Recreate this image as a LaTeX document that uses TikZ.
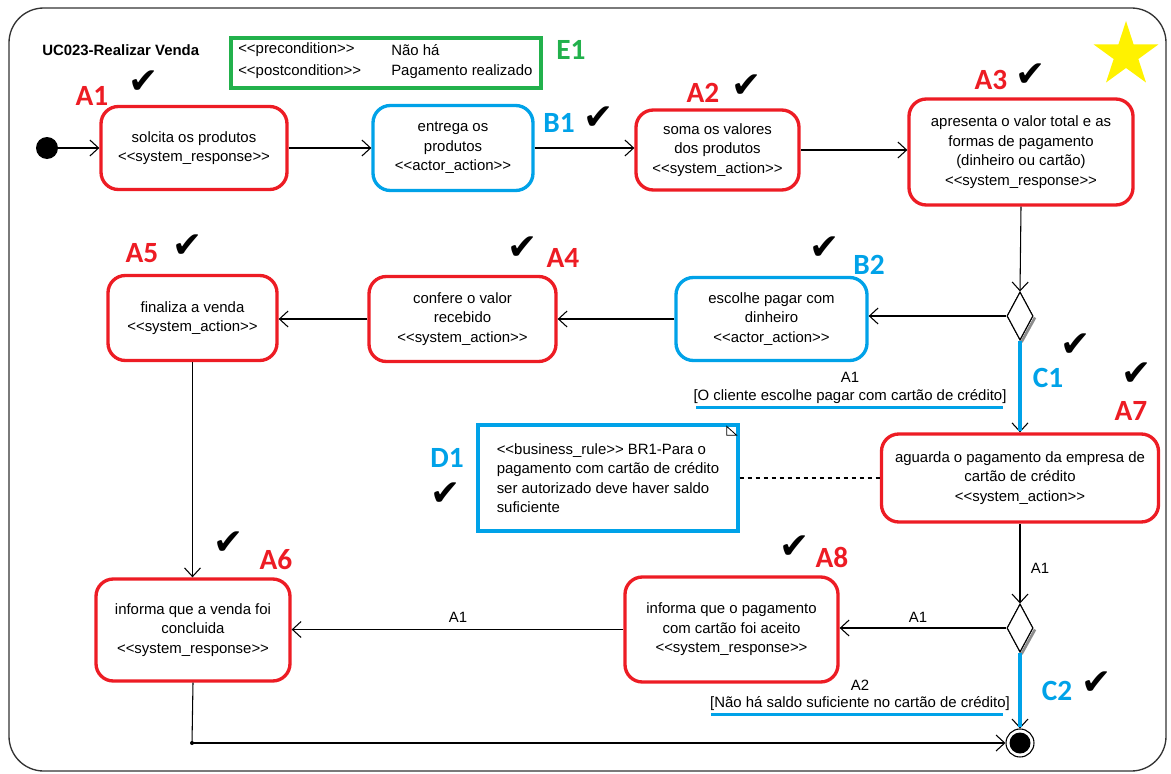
\documentclass[tikz,border=0pt]{standalone}
\usepackage{fontspec}
\setmainfont{Liberation Sans}
\newfontfamily\lblfont{Carlito}
\newfontfamily\symfont{DejaVu Sans}
\usetikzlibrary{arrows.meta,shapes.geometric,calc}
\definecolor{actred}{RGB}{237,28,36}
\definecolor{actblue}{RGB}{0,162,232}
\definecolor{condgreen}{RGB}{34,177,76}
\definecolor{staryellow}{RGB}{255,242,0}
\newcommand\lgu{<{}<}
\newcommand\rgu{>{}>}
\begin{document}
\begin{tikzpicture}[x=0.75pt,y=-0.75pt,
  txt/.style={font=\fontsize{11.2}{14.6}\selectfont, align=center, inner sep=0pt},
  act/.style={txt, draw=#1, line width=2.5pt, rounded corners=13pt, fill=white},
  sz/.style 2 args={minimum width=#1*0.75pt, minimum height=#2*0.75pt},
  tag/.style={font=\lblfont\bfseries\fontsize{22}{22}\selectfont, text=#1, inner sep=0pt},
  tick/.style={font=\symfont\fontsize{27}{27}\selectfont, inner sep=0pt},
  flow/.style={draw=black, line width=0.8pt, -{Straight Barb[length=6.5pt,width=12pt]}},
  bluepath/.style={draw=actblue, line width=2.6pt},
  guardline/.style={draw=actblue, line width=2.6pt},
  decision/.style={diamond, draw=black, line width=0.8pt, fill=white, minimum width=26*0.75pt, minimum height=48*0.75pt, inner sep=0pt},
  dshadow/.style={draw=black!45, line width=2pt}
]
\useasboundingbox (0,0) rectangle (1171,774);

% frame of the activity
\draw[line width=1pt, black!80, rounded corners=26pt] (9,8) rectangle (1166,771);

% title and conditions
\node[txt, font=\fontsize{11.2}{14}\selectfont\bfseries, anchor=west] (title) at (42,50) {UC023-Realizar Venda};
\node[draw=condgreen, line width=2.5pt, sz={310}{50}, inner sep=0pt] (cond) at (386,63) {};
\node[txt, anchor=west] (pre) at (238,50) {\lgu precondition\rgu};
\node[txt, anchor=west] (prev) at (391,50) {Não há};
\node[txt, anchor=west] (post) at (238,72) {\lgu postcondition\rgu};
\node[txt, anchor=west] (postv) at (391,72) {Pagamento realizado};

% star
\node[star, star points=5, star point ratio=2.618, fill=staryellow, minimum size=68*0.75pt, inner sep=0pt] (star) at (1126,55) {};

% start and end
\node[circle, fill=black, minimum size=22*0.75pt, inner sep=0pt] (init) at (47,148) {};
\node[circle, draw=black, line width=0.8pt, fill=white, minimum size=28*0.75pt, inner sep=0pt] (fin) at (1020,743) {};
\node[circle, fill=black, minimum size=21*0.75pt, inner sep=0pt] (finc) at (1020,743) {};
\node[circle, fill=black, minimum size=4*0.75pt, inner sep=0pt] (jn) at (192,743) {};

% actions
\node[act=actred, sz={186}{83}] (a1) at (194,148) {solcita os produtos\\\lgu system\_response\rgu};
\node[act=actblue, sz={160}{85}] (b1) at (453,148) {entrega os\\produtos\\\lgu actor\_action\rgu};
\node[act=actred, sz={163}{80}] (a2) at (717.5,150) {soma os valores\\dos produtos\\\lgu system\_action\rgu};
\node[act=actred, sz={224}{106}] (a3) at (1021,152) {apresenta o valor total e as\\formas de pagamento\\(dinheiro ou cartão)\\\lgu system\_response\rgu};
\node[act=actblue, sz={191}{83}] (b2) at (771.5,319) {escolhe pagar com\\dinheiro\\\lgu actor\_action\rgu};
\node[act=actred, sz={187}{85}] (a4) at (462.5,319) {confere o valor\\recebido\\\lgu system\_action\rgu};
\node[act=actred, sz={169}{85}] (a5) at (192.5,318) {finaliza a venda\\\lgu system\_action\rgu};
\node[act=actred, sz={277}{88}] (a7) at (1020,478) {aguarda o pagamento da empresa de\\cartão de crédito\\\lgu system\_action\rgu};
\node[act=actred, sz={213}{105}] (a8) at (731.5,629.5) {informa que o pagamento\\com cartão foi aceito\\\lgu system\_response\rgu};
\node[act=actred, sz={194}{102}] (a6) at (193,630) {informa que a venda foi\\concluida\\\lgu system\_response\rgu};

% decisions
\node[decision] (d1) at (1020,316) {};
\node[decision] (d2) at (1020,628) {};
\draw[dshadow] ($(d1.east)+(1.5,1.5)$) -- ($(d1.south)+(1.5,1.5)$);
\draw[dshadow] ($(d2.east)+(1.5,1.5)$) -- ($(d2.south)+(1.5,1.5)$);
\node[decision] at (d1) {};
\node[decision] at (d2) {};

% note with business rule
\node[draw=actblue, line width=2.5pt, sz={260}{106}, txt, align=left, fill=white] (note) at (608,478)
  {\lgu business\_rule\rgu\ BR1-Para o\\pagamento com cartão de crédito\\ser autorizado deve haver saldo\\suficiente};
\draw[line width=0.6pt] ($(note.north east)+(-13,3)$) -- ($(note.north east)+(-13,12)$) -- ($(note.north east)+(-3,12)$) -- cycle;
\draw[dashed, line width=0.8pt] (note.east) -- (a7.west);

% flows
\draw[flow] (init) -- (a1);
\draw[flow] (a1.east) -- (a1.east -| b1.west);
\draw[flow] (b1.east) -- (b1.east -| a2.west);
\draw[flow] (a2.east) -- (a2.east -| a3.west);
\draw[flow] (a3.south) -- (d1.north);
\draw[flow] (d1.west) -- (d1.west -| b2.east);
\draw[flow] (b2.west) -- (b2.west -| a4.east);
\draw[flow] (a4.west) -- (a4.west -| a5.east);
\draw[flow] (a5.south) -- (a5.south |- a6.north);
\draw[flow] (d1.south) -- (a7.north);
\draw[bluepath] (d1.south) -- ($(a7.north)+(0,-1)$);
\draw[flow] (a7.south) -- (d2.north);
\draw[flow] (d2.west) -- (d2.west -| a8.east);
\draw[flow] (a8.west) -- (a8.west -| a6.east);
\draw[flow] (d2.south) -- (fin.north);
\draw[bluepath] (d2.south) -- ($(fin.north)+(0,-1)$);
\draw[line width=0.8pt] (a6.south) -- (jn.center);
\draw[flow] (jn.center) -- (fin.west);

% flow labels and guards
\node[txt] (l1) at (850,377) {A1};
\node[txt] (g1) at (850,397) {[O cliente escolhe pagar com cartão de crédito]};
\draw[guardline] ($(g1.south west)+(3,3)$) -- ($(g1.south east)+(-4,3)$);
\node[txt] (l2) at (1040,568) {A1};
\node[txt] (l3) at (918,617) {A1};
\node[txt] (l4) at (458,617) {A1};
\node[txt] (l5) at (860,685) {A2};
\node[txt] (g2) at (860,704) {[Não há saldo suficiente no cartão de crédito]};
\draw[guardline] ($(g2.south west)+(1,3)$) -- ($(g2.south east)+(-7,3)$);

% step tags
\node[tag=actred] (tA1) at (92,96) {A1};
\node[tag=actblue] (tB1) at (559,123) {B1};
\node[tag=actred] (tA2) at (703,93) {A2};
\node[tag=actred] (tA3) at (991,80) {A3};
\node[tag=actred] (tA5) at (142,253) {A5};
\node[tag=actred] (tA4) at (563,258) {A4};
\node[tag=actblue] (tB2) at (869,265) {B2};
\node[tag=actblue] (tC1) at (1048,378) {C1};
\node[tag=actred] (tA7) at (1131,411) {A7};
\node[tag=actblue] (tD1) at (447,458) {D1};
\node[tag=actred] (tA6) at (276,560) {A6};
\node[tag=actred] (tA8) at (832,557) {A8};
\node[tag=actblue] (tC2) at (1057,691) {C2};
\node[tag=condgreen] (tE1) at (571,50) {E1};

% check marks
\node[tick] (k1) at (144,82) {✔};
\node[tick] (k2) at (599,118) {✔};
\node[tick] (k3) at (747,86) {✔};
\node[tick] (k4) at (1031,75) {✔};
\node[tick] (k5) at (188,246) {✔};
\node[tick] (k6) at (523,248) {✔};
\node[tick] (k7) at (825,248) {✔};
\node[tick] (k8) at (1076,345) {✔};
\node[tick] (k9) at (1137,374) {✔};
\node[tick] (k10) at (446,494) {✔};
\node[tick] (k11) at (229,543) {✔};
\node[tick] (k12) at (795,547) {✔};
\node[tick] (k13) at (1097,683) {✔};
\end{tikzpicture}
\end{document}
